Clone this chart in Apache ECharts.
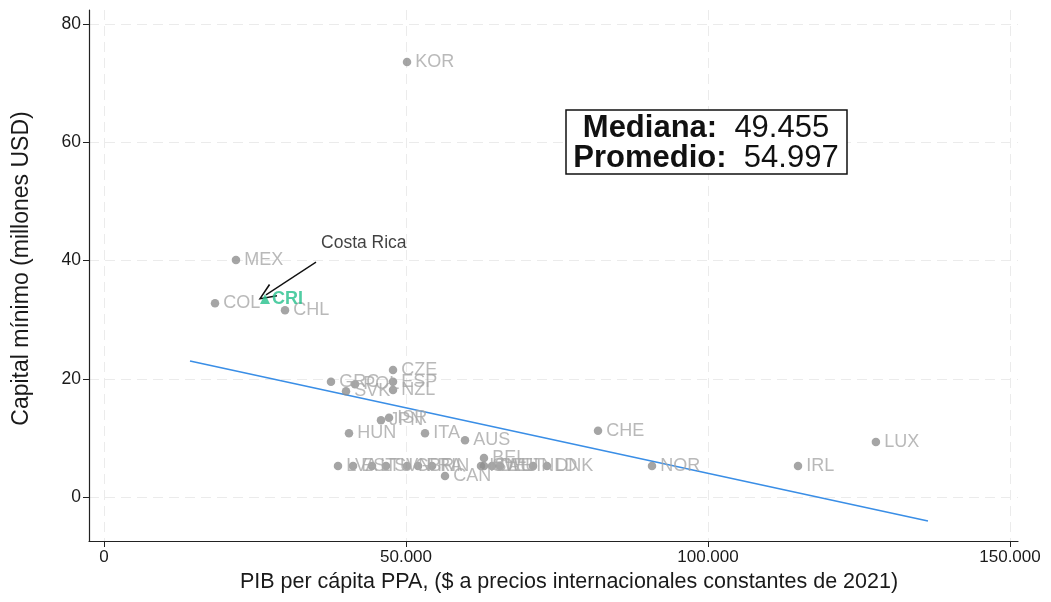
<!DOCTYPE html>
<html>
<head>
<meta charset="utf-8">
<script src="https://cdn.jsdelivr.net/npm/echarts@6/dist/echarts.min.js"></script>
<style>
  html, body { margin: 0; padding: 0; background: #fff; }
  #chart { width: 1051px; height: 602px; }
</style>
</head>
<body>
<div id="chart"></div>
<script>
// OECD countries: GDP per capita PPP vs. minimum capital requirement
const countries = ['KOR','MEX','COL','CHL','CZE','GRC','POL','SVK','ESP','NZL','JPN','ISR','HUN','ITA','AUS','BEL','CAN','CHE','NOR','IRL','LUX',
                   'LVA','EST','LTU','SVN','GBR','FRA','FIN','ISL','SWE','DEU','AUT','NLD','DNK'];
const gdpPerCapita = [50170, 21850, 18380, 29970, 47850, 37580, 41560, 40070, 47850, 47850, 45860, 47190, 40560, 53150, 59770, 62910, 56460, 81790, 90730, 114900, 127800,
                      38740, 41230, 44370, 46690, 50170, 51990, 54310, 62420, 62910, 64240, 65560, 71030, 73340];
const minCapital = [73.6, 40.1, 32.8, 31.6, 21.5, 19.5, 19.1, 17.9, 19.5, 18.1, 13.0, 13.4, 10.8, 10.8, 9.6, 6.6, 3.55, 11.2, 5.25, 5.25, 9.3,
                    5.25, 5.25, 5.25, 5.25, 5.25, 5.25, 5.25, 5.25, 5.25, 5.25, 5.25, 5.25, 5.25];

// Highlighted country
const focusName = 'CRI';
const focusLabel = 'Costa Rica';
const focusGdp = 26660;
const focusCapital = 33.5;

// Linear fit endpoints
const fitX = [14240, 136420];
const fitY = [23.0, -4.06];

// Summary statistics
const medianText = '49.455';
const meanText = '54.997';

// Axis ticks
const xTicks = [0, 50000, 100000, 150000];
const yTicks = [0, 20, 40, 60, 80];

const FONT = '"Liberation Sans", Arial, Helvetica, sans-serif';

function fmtThousands(v) {
  return String(Math.round(v)).replace(/\B(?=(\d{3})+(?!\d))/g, '.');
}

const chart = echarts.init(document.getElementById('chart'), null, { renderer: 'canvas' });

const points = countries.map((c, i) => [gdpPerCapita[i], minCapital[i], c]);

chart.setOption({
  animation: false,
  backgroundColor: '#ffffff',
  textStyle: { fontFamily: FONT },
  grid: { left: 89, right: 33, top: 10, bottom: 61, containLabel: false },
  xAxis: {
    type: 'value',
    min: -2483,
    max: 151325,
    name: 'PIB per cápita PPA, ($ a precios internacionales constantes de 2021)',
    nameLocation: 'middle',
    nameGap: 30,
    nameTextStyle: { fontFamily: FONT, fontSize: 21.5, color: '#1a1a1a', padding: [0, 0, 0, 31] },
    axisLine: { onZero: false, lineStyle: { color: '#222', width: 1.2 } },
    axisTick: { show: true, length: 6, customValues: xTicks, lineStyle: { color: '#222' } },
    axisLabel: { customValues: xTicks, fontFamily: FONT, fontSize: 17, color: '#1a1a1a', margin: 8,
                 formatter: fmtThousands },
    splitLine: { show: true, lineStyle: { color: '#ebebeb', type: [10, 6], width: 1 } }
  },
  yAxis: {
    type: 'value',
    min: -7.44,
    max: 82.4,
    name: 'Capital mínimo (millones USD)',
    nameLocation: 'middle',
    nameGap: 56,
    nameTextStyle: { fontFamily: FONT, fontSize: 23, color: '#1a1a1a', padding: [0, 0, 0, 14] },
    axisLine: { show: true, onZero: false, lineStyle: { color: '#222', width: 1.2 } },
    axisTick: { show: true, length: 6, customValues: yTicks, lineStyle: { color: '#222' } },
    axisLabel: { customValues: yTicks, fontFamily: FONT, fontSize: 17.5, color: '#1a1a1a', margin: 8 },
    splitLine: { show: true, lineStyle: { color: '#ebebeb', type: [10, 6], width: 1 } }
  },
  series: [
    {
      name: 'fit',
      type: 'line',
      data: fitX.map((x, i) => [x, fitY[i]]),
      symbol: 'none',
      lineStyle: { color: '#3a8ee6', width: 1.6 },
      z: 3,
      silent: true
    },
    {
      name: 'countries',
      type: 'scatter',
      data: points,
      symbol: 'circle',
      symbolSize: 8.5,
      itemStyle: { color: '#8e8e8e' },
      label: {
        show: true,
        position: 'right',
        distance: 4,
        formatter: p => p.data[2],
        fontFamily: FONT,
        fontSize: 18,
        color: '#a8a8a8'
      },
      z: 4
    },
    {
      name: 'focus',
      type: 'scatter',
      data: [[focusGdp, focusCapital, focusName]],
      symbol: 'triangle',
      symbolSize: 10,
      itemStyle: { color: '#26c08c' },
      label: {
        show: true,
        position: 'right',
        distance: 2,
        formatter: p => p.data[2],
        fontFamily: FONT,
        fontSize: 18,
        fontWeight: 'bold',
        color: '#26c08c'
      },
      markLine: {
        silent: true,
        symbol: ['none', 'path://M0,0 L7,16 L5.6,16.6 L0,3.4 L-5.6,16.6 L-7,16 Z'],
        symbolSize: [15, 18],
        lineStyle: { color: '#111', width: 1.3, type: 'solid' },
        label: { show: false },
        data: [[{ coord: [35100, 39.75] }, { coord: [26820, 34.2] }]]
      },
      z: 5
    },
    {
      name: 'annotation',
      type: 'scatter',
      data: [[35930, 42.96, focusLabel]],
      symbolSize: 0,
      label: {
        show: true,
        position: 'right',
        distance: 0,
        formatter: p => p.data[2],
        fontFamily: FONT,
        fontSize: 17.5,
        color: '#111'
      },
      z: 5
    }
  ],
  graphic: [
    {
      type: 'rect',
      shape: { x: 566, y: 110, width: 281, height: 64 },
      style: { fill: '#fff', stroke: '#111', lineWidth: 1.5 },
      z: 10
    },
    {
      type: 'text',
      x: 706,
      y: 143.5,
      style: {
        text: '{b|Mediana:}  {n|' + medianText + '}\n{b|Promedio:}  {n|' + meanText + '}',
        align: 'center',
        verticalAlign: 'middle',
        fontFamily: FONT,
        fontSize: 31,
        lineHeight: 30,
        fill: '#111',
        rich: {
          b: { fontFamily: FONT, fontSize: 31, fontWeight: 'bold', fill: '#111', lineHeight: 30 },
          n: { fontFamily: FONT, fontSize: 31, fill: '#111', lineHeight: 30 }
        }
      },
      z: 11
    }
  ]
});
</script>
</body>
</html>
